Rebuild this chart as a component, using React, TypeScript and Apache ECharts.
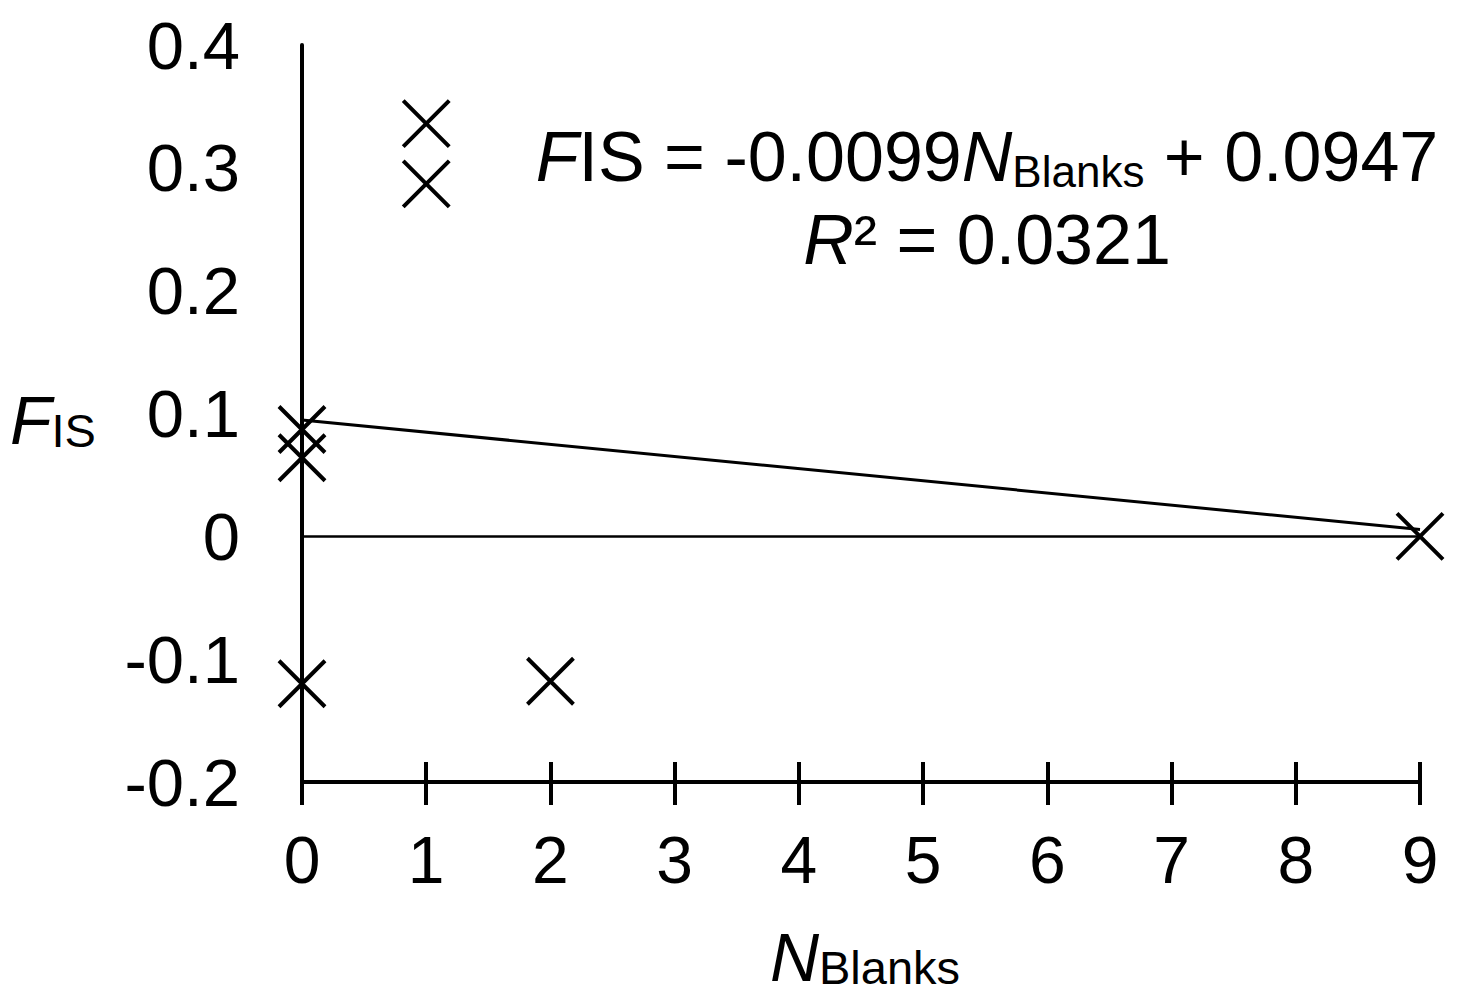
import React, { useEffect, useRef } from "react";
import * as echarts from "echarts";

// Data
const xValues: number[] = [0, 0, 0, 1, 1, 2, 9];
const yValues: number[] = [0.087, 0.064, -0.12, 0.336, 0.287, -0.118, 0.0];
const trendX: number[] = [0, 9];
const trendY: number[] = [0.0947, 0.0056];
const xMin = 0, xMax = 9, xStep = 1;
const yMin = -0.2, yMax = 0.4, yStep = 0.1;
const equationLine1 = "{it|F}{n|IS = -0.0099}{it|N}{sub|Blanks}{n| + 0.0947}";
const equationLine2 = "{it|R}{n|² = 0.0321}";

const FONT = "'Liberation Sans', Arial, sans-serif";
const CROSS = "path://M0,0L1,1M1,0L0,1";

export default function App() {
  const ref = useRef<HTMLDivElement>(null);
  useEffect(() => {
    if (!ref.current) return;
    const chart = echarts.init(ref.current, undefined, { renderer: "svg" });
    const points = xValues.map((x, i) => [x, yValues[i]]);
    const trend = trendX.map((x, i) => [x, trendY[i]]);
    const richMain = {
      n: { fontSize: 70, fontFamily: FONT, color: "#000", lineHeight: 72 },
      it: { fontSize: 70, fontFamily: FONT, color: "#000", fontStyle: "italic", lineHeight: 72 },
      sub: { fontSize: 44, fontFamily: FONT, color: "#000", lineHeight: 44, padding: [46, 0, 0, 0], verticalAlign: "bottom" },
    };
    const richAxis = {
      it: { fontSize: 68, fontFamily: FONT, color: "#000", fontStyle: "italic", lineHeight: 68 },
      sub: { fontSize: 47, fontFamily: FONT, color: "#000", lineHeight: 47, padding: [38, 0, 0, 0], verticalAlign: "bottom" },
    };
    chart.setOption({
      animation: false,
      grid: { left: 302, right: 38, top: 45, bottom: 217 },
      xAxis: [
        {
          type: "value",
          position: "bottom",
          min: xMin,
          max: xMax,
          interval: xStep,
          axisLine: { show: true, onZero: false, lineStyle: { color: "#000", width: 4 } },
          axisTick: { show: true, inside: false, length: 23, lineStyle: { color: "#000", width: 4 } },
          axisLabel: { show: true, margin: 45, fontSize: 66, fontFamily: FONT, color: "#000" },
          splitLine: { show: false },
        },
        {
          type: "value",
          position: "bottom",
          min: xMin,
          max: xMax,
          interval: xStep,
          axisLine: { show: false, onZero: false },
          axisTick: { show: true, inside: true, length: 20, lineStyle: { color: "#000", width: 4 } },
          axisLabel: { show: false },
          splitLine: { show: false },
        },
      ],
      yAxis: {
        type: "value",
        min: yMin,
        max: yMax,
        interval: yStep,
        axisLine: { show: true, onZero: false, lineStyle: { color: "#000", width: 4 } },
        axisTick: { show: false },
        axisLabel: {
          margin: 62,
          fontSize: 67,
          fontFamily: FONT,
          color: "#000",
          formatter: (v: number) => (Math.abs(v) < 1e-9 ? "0" : v.toFixed(1)),
        },
        splitLine: { show: false },
      },
      series: [
        {
          type: "line",
          data: trend,
          symbol: "none",
          lineStyle: { color: "#000", width: 3 },
          silent: true,
          markLine: {
            symbol: ["none", "none"],
            silent: true,
            label: { show: false },
            lineStyle: { color: "#000", width: 2.5, type: "solid" },
            data: [{ yAxis: 0 }],
          },
        },
        {
          type: "scatter",
          data: points,
          symbol: CROSS,
          symbolSize: 46,
          itemStyle: { color: "#000", borderColor: "#000", borderWidth: 4, opacity: 1 },
        },
      ],
      graphic: [
        {
          type: "text",
          x: 987,
          y: 121,
          style: { text: equationLine1, rich: richMain, align: "center", verticalAlign: "top" },
        },
        {
          type: "text",
          x: 987,
          y: 204,
          style: { text: equationLine2, rich: richMain, align: "center", verticalAlign: "top" },
        },
        {
          type: "text",
          x: 10,
          y: 386,
          style: { text: "{it|F}{sub|IS}", rich: richAxis, align: "left", verticalAlign: "top" },
        },
        {
          type: "text",
          x: 865,
          y: 923,
          style: { text: "{it|N}{sub|Blanks}", rich: richAxis, align: "center", verticalAlign: "top" },
        },
      ],
    });
    return () => chart.dispose();
  }, []);
  return (
    <div
      ref={ref}
      style={{ position: "absolute", left: 0, top: 0, width: 1458, height: 999, background: "#fff" }}
    />
  );
}
